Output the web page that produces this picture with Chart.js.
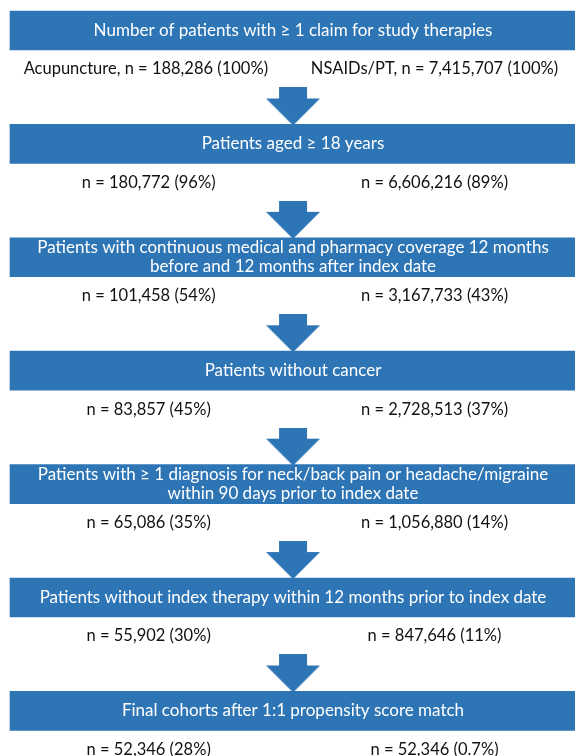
<!DOCTYPE html>
<html>
<head>
<meta charset="utf-8">
<script src="https://cdn.jsdelivr.net/npm/chart.js@4.4.1/dist/chart.umd.min.js"></script>
<style>
  html, body { margin: 0; padding: 0; background: #fff; }
  #wrap { width: 575px; height: 756px; }
</style>
</head>
<body>
<div id="wrap"><canvas id="flow"></canvas></div>
<script>
  // selection steps, top to bottom
  const stages = [
    ['Number of patients with \u2265 1 claim for study therapies'],
    ['Patients aged \u2265 18 years'],
    ['Patients with continuous medical and pharmacy coverage 12 months', 'before and 12 months after index date'],
    ['Patients without cancer'],
    ['Patients with \u2265 1 diagnosis for neck/back pain or headache/migraine', 'within 90 days prior to index date'],
    ['Patients without index therapy within 12 months prior to index date'],
    ['Final cohorts after 1:1 propensity score match']
  ];
  const cohorts = ['Acupuncture', 'NSAIDs/PT'];
  const acupunctureN = [188286, 180772, 101458, 83857, 65086, 55902, 52346];
  const acupuncturePct = ['100%', '96%', '54%', '45%', '35%', '30%', '28%'];
  const nsaidN = [7415707, 6606216, 3167733, 2728513, 1056880, 847646, 52346];
  const nsaidPct = ['100%', '89%', '43%', '37%', '14%', '11%', '0.7%'];

  const blue = '#2e75b6';
  const font = '"Lato", "Noto Sans", sans-serif';

  // block arrow used as point style
  function makeArrow() {
    const c = document.createElement('canvas');
    c.width = 54; c.height = 38;
    const g = c.getContext('2d');
    g.fillStyle = blue;
    g.beginPath();
    g.moveTo(13, 0); g.lineTo(41, 0); g.lineTo(41, 11);
    g.lineTo(54, 11); g.lineTo(27, 38); g.lineTo(0, 11);
    g.lineTo(13, 11); g.closePath();
    g.fill();
    return c;
  }

  const fmt = n => n.toLocaleString('en-US');

  const labelPlugin = {
    id: 'flowText',
    afterDatasetsDraw(chart) {
      const ctx = chart.ctx;
      const xs = chart.scales.x, ys = chart.scales.y;
      ctx.save();
      ctx.textAlign = 'center';
      ctx.textBaseline = 'middle';
      stages.forEach((lines, i) => {
        const cy = ys.getPixelForValue(i);
        const cx = xs.getPixelForValue(0.5);
        ctx.font = '17px ' + font;
        ctx.fillStyle = '#ffffff';
        lines.forEach((t, k) => {
          ctx.fillText(t, cx, cy + (k - (lines.length - 1) / 2) * 19);
        });
        const ry = ys.getPixelForValue(i + 0.34);
        let left = 'n = ' + fmt(acupunctureN[i]) + ' (' + acupuncturePct[i] + ')';
        let right = 'n = ' + fmt(nsaidN[i]) + ' (' + nsaidPct[i] + ')';
        if (i === 0) {
          left = cohorts[0] + ', ' + left;
          right = cohorts[1] + ', ' + right;
        }
        ctx.font = '16.5px ' + font;
        ctx.fillStyle = '#111111';
        ctx.fillText(left, xs.getPixelForValue(i === 0 ? 0.24 : 0.245), ry);
        ctx.fillText(right, xs.getPixelForValue(0.75), ry);
      });
      ctx.restore();
    }
  };

  new Chart(document.getElementById('flow'), {
    type: 'bar',
    data: {
      datasets: [{
        label: 'Steps',
        data: stages.map((s, i) => ({ x: [0, 1], y: i })),
        backgroundColor: blue,
        borderWidth: 0,
        barThickness: 39
      }, {
        type: 'scatter',
        label: 'Arrows',
        data: stages.slice(1).map((s, i) => ({ x: 0.5, y: i + 0.67 })),
        pointStyle: makeArrow(),
        pointRadius: 1
      }]
    },
    options: {
      indexAxis: 'y',
      responsive: true,
      maintainAspectRatio: false,
      animation: false,
      layout: { padding: 0, autoPadding: false },
      plugins: { legend: { display: false }, tooltip: { enabled: false } },
      scales: {
        x: { type: 'linear', min: -0.01767, max: 0.99823, offset: false, display: false },
        y: { type: 'linear', reverse: true, min: -0.269, max: 6.398, offset: false, display: false }
      }
    },
    plugins: [labelPlugin]
  });
</script>
</body>
</html>
